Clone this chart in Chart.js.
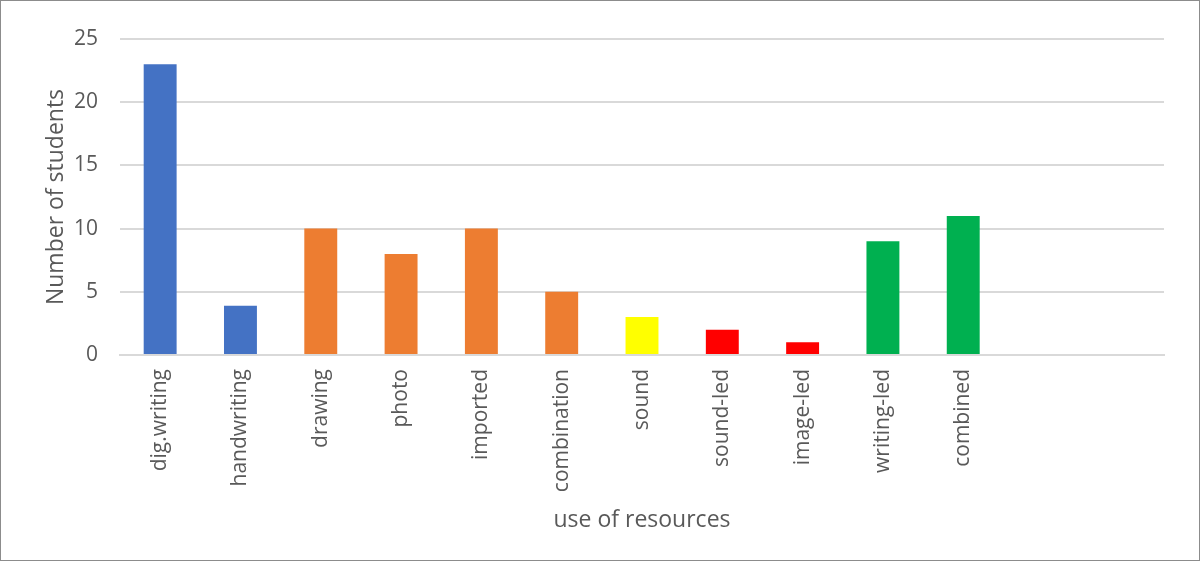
<!DOCTYPE html>
<html><head><meta charset="utf-8">
<script src="https://cdn.jsdelivr.net/npm/chart.js@4"></script>
<style>
html,body{margin:0;padding:0;background:#fff;}
#wrap{position:absolute;left:0;top:0;width:1198px;height:559px;border:1px solid #8c8c8c;}
canvas{display:block;}
</style></head><body>
<div id="wrap"><canvas id="c" width="1198" height="559"></canvas></div>
<script>
const categories = ["dig.writing","handwriting","drawing","photo","imported","combination","sound","sound-led","image-led","writing-led","combined","",""];
const values = [23, 3.9, 10, 8, 10, 5, 3, 2, 1, 9, 11, null, null];
const barColors = ["#4472C4","#4472C4","#ED7D31","#ED7D31","#ED7D31","#ED7D31","#FFFF00","#FF0000","#FF0000","#00B050","#00B050","#00B050","#00B050"];
const yTicks = [0,5,10,15,20,25];
const xTitle = "use of resources";
const yTitle = "Number of students";

new Chart(document.getElementById('c'), {
  type: 'bar',
  data: { labels: categories, datasets: [{ data: values, backgroundColor: barColors, barPercentage: 0.41, categoryPercentage: 1 }] },
  options: {
    responsive: false, animation: false,
    layout: { padding: { top: 38, right: 35, left: 42, bottom: 26 } },
    plugins: { legend: { display: false }, tooltip: { enabled: false } },
    scales: {
      x: {
        grid: { display: false, drawTicks: false },
        border: { color: '#d9d9d9', width: 2 },
        ticks: { color: '#595959', font: { family: 'Open Sans, Calibri, sans-serif', size: 21 }, maxRotation: 90, minRotation: 90, padding: 14, autoSkip: false },
        title: { display: true, text: xTitle, color: '#595959', font: { family: 'Open Sans, sans-serif', size: 23 }, padding: { top: 6, bottom: 0 } },
        afterFit: (s) => { s.height = 179; }
      },
      y: {
        min: 0, max: 25,
        afterBuildTicks: (s) => { s.ticks = yTicks.map(v => ({ value: v })); },
        grid: { color: '#d9d9d9', lineWidth: 2, drawTicks: false },
        border: { display: false },
        ticks: { color: '#595959', font: { family: 'Open Sans, sans-serif', size: 21 }, padding: 22 },
        title: { display: true, text: yTitle, color: '#595959', font: { family: 'Open Sans, sans-serif', size: 23 }, padding: { top: 0, bottom: 4 } },
        afterFit: (s) => { s.width = 77; }
      }
    }
  }
});
</script>
</body></html>
